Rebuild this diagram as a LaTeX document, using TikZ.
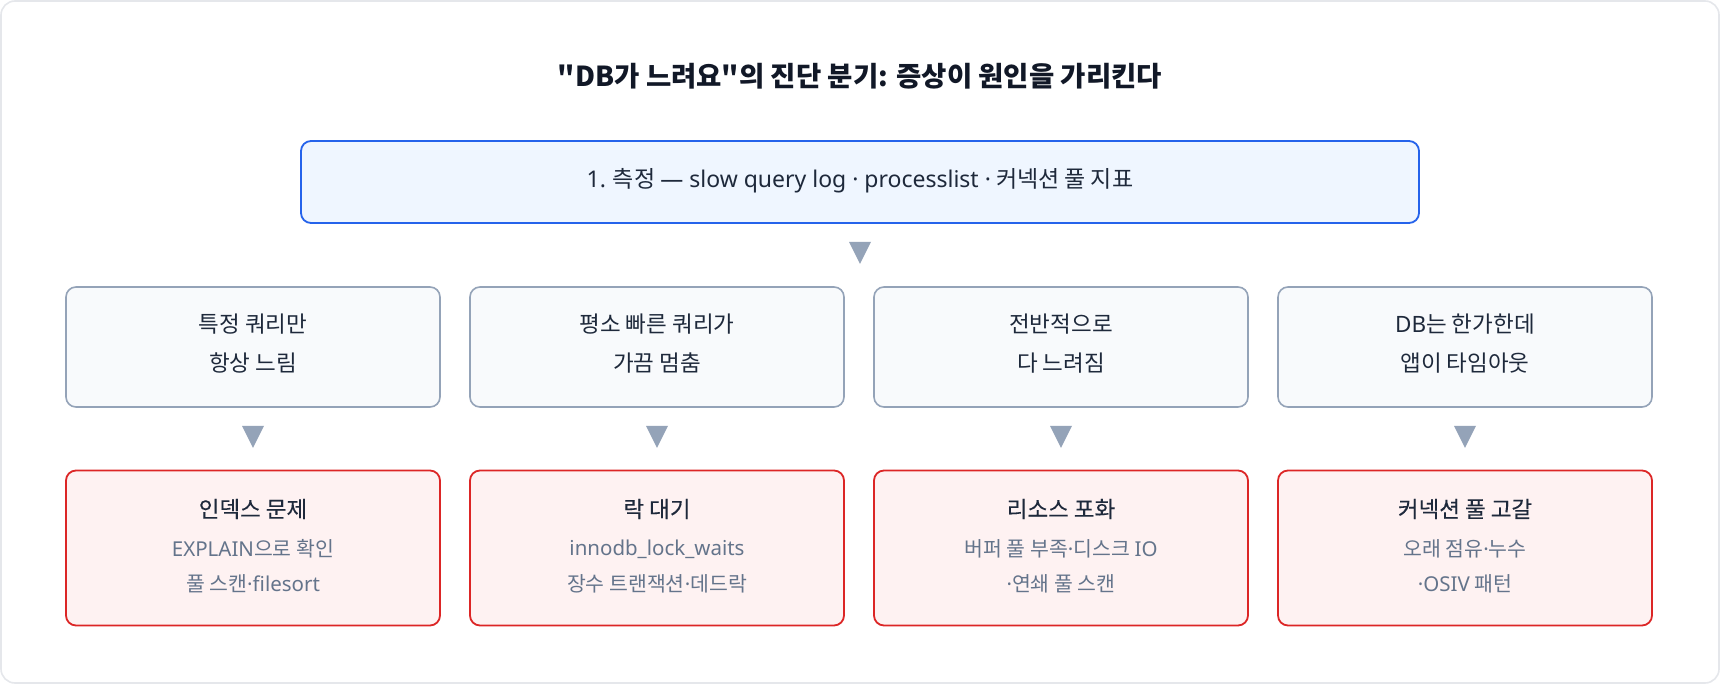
\documentclass[tikz,border=0pt]{standalone}
\usepackage{fontspec}
\setmainfont{Noto Sans CJK KR}[Ligatures=TeXOff]
\newfontfamily\latf{Noto Sans}[Ligatures=TeXOff]
\newfontfamily\medf{Noto Sans CJK KR}[FakeBold=0.2]
\newcommand{\latx}[1]{{\latf #1}}
\newcommand{\mdot}{{\latf ·}}
\usetikzlibrary{calc}
\definecolor{outerc}{HTML}{E5E7EB}
\definecolor{titlec}{HTML}{111827}
\definecolor{textc}{HTML}{1E293B}
\definecolor{subc}{HTML}{64748B}
\definecolor{bluec}{HTML}{2563EB}
\definecolor{bluef}{HTML}{EFF6FF}
\definecolor{grayc}{HTML}{94A3B8}
\definecolor{grayf}{HTML}{F8FAFC}
\definecolor{redc}{HTML}{DC2626}
\definecolor{redf}{HTML}{FEF2F2}
\definecolor{arrc}{HTML}{94A3B8}
\tikzset{
  topbox/.style={draw=bluec, fill=bluef, line width=1.8pt, rounded corners=10pt,
    minimum width=1118pt, minimum height=82pt, inner sep=0pt},
  symbox/.style={draw=grayc, fill=grayf, line width=1.6pt, rounded corners=10pt,
    minimum width=374pt, minimum height=120pt, inner sep=0pt},
  causebox/.style={draw=redc, fill=redf, line width=1.8pt, rounded corners=10pt,
    minimum width=374pt, minimum height=155pt, inner sep=0pt},
  titletxt/.style={font=\fontsize{27.5}{31}\selectfont\bfseries, text=titlec, inner sep=0pt},
  toptxt/.style={font=\fontsize{23}{27}\selectfont, text=textc, inner sep=0pt},
  symtxt/.style={font=\fontsize{22.5}{27}\selectfont, text=textc, inner sep=0pt},
  causetxt/.style={font=\fontsize{22.5}{27}\selectfont\medf, text=textc, inner sep=0pt},
  subtxt/.style={font=\fontsize{20.5}{24}\selectfont, text=subc, inner sep=0pt},
  tri/.style={fill=arrc},
}
\newcommand{\downtri}[1]{%
  \fill[tri] ($(#1)+(-11,0)$) -- ($(#1)+(11,0)$) -- ($(#1)+(0,22)$) -- cycle;}
\begin{document}
\begin{tikzpicture}[x=1pt,y=-1pt]
\useasboundingbox (0,0) rectangle (1720,684);
\draw[outerc, line width=1.6pt, fill=white, rounded corners=14pt] (1,1) rectangle (1719,683);

\node[titletxt] (title) at (860,76) {"DB가 느려요"의 진단 분기: 증상이 원인을 가리킨다};

\node[topbox] (top) at (860,182) {};
\node[toptxt] (toptext) at (860,181) {\latx{1.} 측정 \latx{— slow query log · processlist ·} 커넥션 풀 지표};

% symptom row
\node[symbox] (s1) at (253,347) {};
\node[symbox] (s2) at (657,347) {};
\node[symbox] (s3) at (1061,347) {};
\node[symbox] (s4) at (1465,347) {};

\node[symtxt] (s1a) at ($(s1.center)+(0,-23)$) {특정 쿼리만};
\node[symtxt] (s1b) at ($(s1.center)+(0,16)$) {항상 느림};
\node[symtxt] (s2a) at ($(s2.center)+(0,-23)$) {평소 빠른 쿼리가};
\node[symtxt] (s2b) at ($(s2.center)+(0,16)$) {가끔 멈춤};
\node[symtxt] (s3a) at ($(s3.center)+(0,-23)$) {전반적으로};
\node[symtxt] (s3b) at ($(s3.center)+(0,16)$) {다 느려짐};
\node[symtxt] (s4a) at ($(s4.center)+(0,-23)$) {\latx{DB}는 한가한데};
\node[symtxt] (s4b) at ($(s4.center)+(0,16)$) {앱이 타임아웃};

% cause row
\node[causebox] (c1) at (253,548) {};
\node[causebox] (c2) at (657,548) {};
\node[causebox] (c3) at (1061,548) {};
\node[causebox] (c4) at (1465,548) {};

\node[causetxt] (c1a) at ($(c1.center)+(0,-39)$) {인덱스 문제};
\node[subtxt] (c1b) at ($(c1.center)+(0,1)$) {\latx{EXPLAIN}으로 확인};
\node[subtxt] (c1c) at ($(c1.center)+(0,36)$) {풀 스캔\mdot\latx{filesort}};
\node[causetxt] (c2a) at ($(c2.center)+(0,-39)$) {락 대기};
\node[subtxt] (c2b) at ($(c2.center)+(0,1)$) {\latx{innodb\_lock\_waits}};
\node[subtxt] (c2c) at ($(c2.center)+(0,36)$) {장수 트랜잭션\mdot 데드락};
\node[causetxt] (c3a) at ($(c3.center)+(0,-39)$) {리소스 포화};
\node[subtxt] (c3b) at ($(c3.center)+(0,1)$) {버퍼 풀 부족\mdot 디스크 \latx{IO}};
\node[subtxt] (c3c) at ($(c3.center)+(0,36)$) {\mdot 연쇄 풀 스캔};
\node[causetxt] (c4a) at ($(c4.center)+(0,-39)$) {커넥션 풀 고갈};
\node[subtxt] (c4b) at ($(c4.center)+(0,1)$) {오래 점유\mdot 누수};
\node[subtxt] (c4c) at ($(c4.center)+(0,36)$) {\mdot\latx{OSIV} 패턴};

% arrows
\coordinate (a0) at ($(top.south)+(0,18)$);
\downtri{a0}
\foreach \i in {1,2,3,4}{
  \coordinate (a\i) at ($(s\i.south)+(0,18)$);
  \downtri{a\i}
}
\end{tikzpicture}
\end{document}
